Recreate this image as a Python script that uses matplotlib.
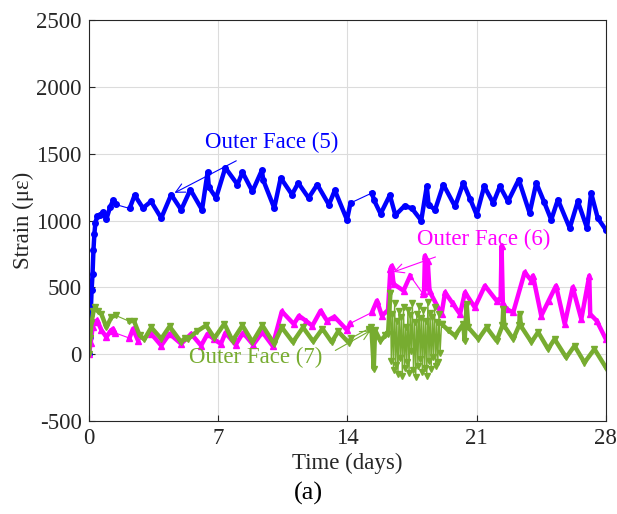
import numpy as np
import matplotlib
matplotlib.use("Agg")
import matplotlib.pyplot as plt

plt.rcParams['font.family'] = ['Liberation Serif', 'DejaVu Serif']
plt.rcParams['axes.unicode_minus'] = False

# Outer Face (5)
t5 = [0.0, 0.05, 0.1, 0.15, 0.2, 0.25, 0.3, 0.35, 0.45, 0.6, 0.75, 0.95, 1.15, 1.31, 1.45,
      2.21, 2.48, 2.93, 3.37, 3.92, 4.46, 5.0, 5.5, 6.13, 6.43, 6.5, 6.89, 7.39, 8.05, 8.32,
      8.86, 9.37, 9.45, 10.04, 10.39, 11.0, 11.34, 11.9, 12.37, 13.0, 13.32, 13.98, 14.17,
      15.33, 15.45, 15.8, 16.3, 16.6, 17.1, 17.5, 18.0, 18.3, 18.4, 18.75, 19.2, 19.83,
      20.28, 20.65, 21.0, 21.41, 21.9, 22.26, 22.7, 23.28, 23.87, 24.23, 24.65, 25.04, 25.4,
      26.04, 26.48, 26.98, 27.2, 27.56, 28.0]
v5 = [0, 130, 300, 480, 600, 780, 900, 980, 1030, 1040, 1060, 1010, 1100, 1150, 1120,
      1090, 1190, 1093, 1143, 1018, 1194, 1080, 1231, 1080, 1361, 1250, 1169, 1395, 1269, 1361,
      1218, 1376, 1300, 1093, 1319, 1194, 1281, 1169, 1269, 1118, 1226, 1005, 1131,
      1206, 1150, 1050, 1190, 1040, 1110, 1090, 1000, 1256, 1118, 1080, 1269, 1105,
      1281, 1160, 1043, 1256, 1131, 1256, 1143, 1306, 1055, 1281, 1140, 1005, 1156,
      943, 1143, 943, 1206, 1018, 930]

# Outer Face (6)
t6 = [0.0, 0.1, 0.2, 0.3, 0.45, 0.68, 0.95, 1.15, 1.31, 1.4,
      2.2, 2.39, 2.66, 3.38, 3.92, 4.37, 5.0, 5.54, 6.08, 6.43, 6.8, 7.15, 7.4, 7.95, 8.35,
      8.9, 9.4, 9.95, 10.45, 11.1, 11.38, 11.75, 12.1, 12.55, 12.9, 13.3, 13.98, 14.15,
      15.33, 15.6, 15.87, 16.2, 16.33, 16.4, 16.5, 17.04, 17.4, 18.1, 18.15, 18.2, 18.27,
      18.35, 18.45, 19.1, 19.29, 19.7, 20.1, 20.37, 20.9, 21.45, 22.08, 22.3, 22.35, 22.42,
      22.62, 22.98, 23.6, 23.97, 24.05, 24.5, 24.9, 25.3, 25.77, 26.2, 26.67, 27.1, 27.15,
      27.5, 28.0]
v6 = [0, 80, 200, 240, 253, 180, 127, 170, 190, 160,
      120, 190, 102, 152, 64, 152, 77, 152, 64, 152, 110, 77, 160, 70, 160,
      70, 165, 62, 320, 225, 287, 250, 212, 325, 250, 280, 180, 230,
      312, 400, 287, 330, 637, 660, 525, 475, 587, 450, 460, 737, 500,
      700, 470, 300, 462, 380, 300, 462, 350, 512, 400, 420, 810, 380,
      337, 312, 612, 550, 587, 287, 400, 512, 225, 500, 262, 587, 300,
      250, 112]

# Outer Face (7)
t7 = [0.0, 0.07, 0.14, 0.25, 0.35, 0.5, 0.68, 0.95, 1.22, 1.45,
      2.2, 2.44, 2.75, 3.0, 3.38, 3.92, 4.37, 5.0, 5.2, 5.35, 5.85, 6.35, 6.8, 7.34, 7.78,
      8.32, 8.86, 9.4, 10.03, 10.45, 11.05, 11.6, 12.15, 12.65, 13.15, 13.5, 14.08, 14.2,
      15.16, 15.3, 15.43, 15.5, 15.79, 16.06, 16.2, 16.33]
v7 = [0, 120, 230, 320, 350, 320, 300, 200, 277, 290,
      245, 250, 140, 110, 200, 115, 207, 90, 120, 110, 170, 215, 120, 228, 100,
      215, 90, 215, 77, 200, 90, 200, 95, 190, 90, 170, 85, 120,
      190, 200, -110, 180, 100, 140, 150, 455]

# Outer Face (7), noisy part
t7n = [16.33, 16.38, 16.44, 16.5, 16.56, 16.62, 16.68, 16.74, 16.8, 16.86, 16.92, 16.98,
       17.04, 17.1, 17.16, 17.22, 17.28, 17.34, 17.4, 17.46, 17.52, 17.58, 17.64, 17.7,
       17.76, 17.82, 17.88, 17.94, 18.0, 18.06, 18.12, 18.18, 18.24, 18.3, 18.36, 18.42,
       18.48, 18.54, 18.6, 18.66, 18.72, 18.78, 18.84, 18.9, 18.96, 19.02, 19.1]
v7n = [455, -50, 300, -120, 380, -80, 250, -150, 320, -30, 280, -160,
       350, -100, 200, -60, 330, -140, 290, 20, 380, -120, 240, -170,
       300, -90, 360, -40, 270, -130, 330, -100, 250, -160, 390, -50,
       310, -110, 280, -20, 350, -90, 240, -60, 300, 10, 227]

t7b = [19.1, 19.45, 19.83, 20.28, 20.35, 20.46, 20.55, 21.1, 21.54, 22.08, 22.4, 22.44,
       22.5, 22.98, 23.3, 23.34, 23.4, 23.97, 24.33, 24.87, 25.22, 25.85, 26.3, 26.84,
       27.38, 28.0]
v7b = [227, 180, 138, 227, 100, 377, 200, 113, 200, 100, 215, 340,
       210, 113, 215, 300, 210, 90, 165, 38, 113, -25, 62, -63,
       38, -100]


def dibuja(t, v, color, marker, ms):
    t = np.array(t, dtype=float)
    v = np.array(v, dtype=float)
    idx = np.where(np.diff(t) > 0.7)[0] + 1
    tt = np.insert(t, idx, np.nan)
    vv = np.insert(v, idx, np.nan)
    plt.plot(t, v, color=color, lw=0.8)
    plt.plot(tt, vv, color=color, lw=3.2, solid_joinstyle='round')
    plt.plot(t, v, ls='none', marker=marker, ms=ms, color=color)


azul = '#0000FF'
rosa = '#FF00FF'
verde = '#77AC30'
fs = 16.5

fig = plt.figure(figsize=(6.17, 5.14), dpi=100)
ax = fig.add_axes([0.144, 0.181, 0.838, 0.780])

dibuja(t5, v5, azul, 'o', 4)
dibuja(t6, v6, rosa, '^', 4.5)
dibuja(t7, v7, verde, 'v', 4.5)
plt.plot(t7n, v7n, color=verde, lw=1.0, marker='v', ms=4)
dibuja(t7b, v7b, verde, 'v', 4.5)

ax.annotate("Outer Face (5)", xy=(4.64, 1207), xytext=(6.3, 1585), color=azul,
            fontsize=fs, va='center', ha='left',
            arrowprops=dict(arrowstyle='->', color=azul, lw=0.8, shrinkA=8, shrinkB=0))
ax.annotate("Outer Face (6)", xy=(16.5, 615), xytext=(17.75, 855), color=rosa,
            fontsize=fs, va='center', ha='left',
            arrowprops=dict(arrowstyle='->', color=rosa, lw=0.8, shrinkA=8, shrinkB=0))
ax.annotate("Outer Face (7)", xy=(15.26, 177), xytext=(5.45, -25), color=verde,
            fontsize=fs, va='center', ha='left',
            arrowprops=dict(arrowstyle='->', color=verde, lw=0.8, shrinkA=8, shrinkB=0,
                            relpos=(1.0, 0.5)))

ax.set_xlim(0, 28)
ax.set_ylim(-500, 2500)
ax.set_xticks([0, 7, 14, 21, 28])
ax.set_yticks(np.arange(-500, 2501, 500))
ax.grid(True, color='#dcdcdc', lw=0.8)
ax.set_axisbelow(True)
ax.tick_params(direction='in', labelsize=fs, colors='#262626', length=4, pad=5)
for s in ax.spines.values():
    s.set_color('#262626')
    s.set_linewidth(0.8)
ax.set_xlabel("Time (days)", fontsize=fs, color='#262626', labelpad=3)
ax.set_ylabel("Strain (\u03bc\u03b5)", fontsize=fs, color='#262626', labelpad=2)
fig.text(0.5, 0.04, "(a)", ha='center', va='center', fontsize=19, color='black')

plt.savefig("out.png", dpi=100)
